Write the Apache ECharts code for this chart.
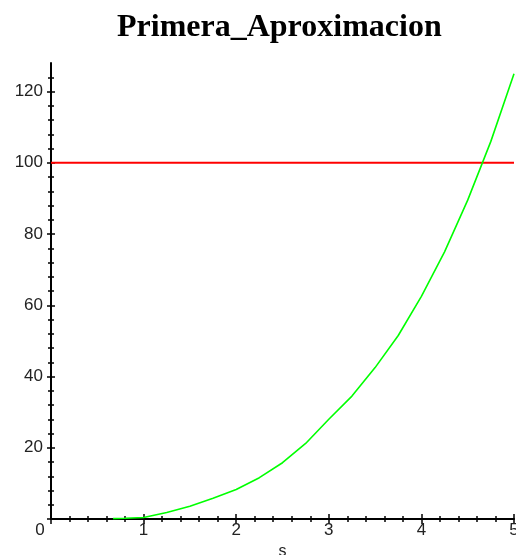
<!DOCTYPE html>
<html>
<head>
<meta charset="utf-8">
<script src="https://cdn.jsdelivr.net/npm/echarts@6/dist/echarts.min.js"></script>
<style>html,body{margin:0;padding:0;background:#fff;}#c{width:516px;height:555px;}</style>
</head>
<body>
<div id="c"></div>
<script>
const titleText = 'Primera_Aproximacion';
const xName = 's';
const sValues = [0.67, 0.8, 1.0, 1.25, 1.5, 1.75, 2.0, 2.25, 2.5, 2.75, 3.0, 3.25, 3.5, 3.75, 4.0, 4.25, 4.5, 4.75, 5.0];
const approxValues = [0.1, 0.2, 0.4, 1.8, 3.6, 5.8, 8.3, 11.6, 15.8, 21.2, 28, 34.5, 42.5, 51.5, 62.5, 75, 89.5, 106, 125];
const refS = [0, 5];
const refValues = [100, 100];
const yMajorTicks = [0, 20, 40, 60, 80, 100, 120];
const yMinorTicks = [4, 8, 12, 16, 24, 28, 32, 36, 44, 48, 52, 56, 64, 68, 72, 76, 84, 88, 92, 96, 104, 108, 112, 116, 124];
const xTickLabels = [0, 1, 2, 3, 4, 5];

const chart = echarts.init(document.getElementById('c'));
const labelFont = { fontFamily: 'Liberation Sans, Arial, sans-serif', fontSize: 17, color: '#222' };
const lineStyle = { color: '#000', width: 2 };

function yAx(ticks, inside, len, showLine, showLabel) {
  return {
    type: 'value', min: 0, max: 128, position: 'left',
    axisLine: { show: showLine, onZero: false, lineStyle: lineStyle },
    axisTick: { show: true, inside: inside, length: len, customValues: ticks, lineStyle: { color: '#000', width: 1.5 } },
    axisLabel: Object.assign({ show: showLabel, margin: 8, customValues: yMajorTicks.filter(v => v !== 0) }, labelFont),
    splitLine: { show: false }
  };
}
function xAx(inside, showLine, showLabel) {
  return {
    type: 'value', min: 0, max: 5, interval: 1, position: 'bottom',
    name: showLabel ? xName : '', nameLocation: 'middle', nameGap: 16,
    nameTextStyle: Object.assign({}, labelFont, { fontSize: 16 }),
    axisLine: { show: showLine, onZero: false, lineStyle: lineStyle },
    axisTick: { show: true, inside: inside, length: 5, lineStyle: { color: '#000', width: 1.5 } },
    minorTick: { show: true, splitNumber: 5, length: 3, lineStyle: { color: '#000', width: 1.5 } },
    axisLabel: Object.assign({
      show: showLabel, margin: 3, showMaxLabel: true,
      formatter: v => (v === 0 ? '{z|0}' : String(v)),
      rich: { z: Object.assign({}, labelFont, { padding: [0, 22, 0, 0] }) }
    }, labelFont),
    splitLine: { show: false }
  };
}

chart.setOption({
  animation: false,
  backgroundColor: '#fff',
  title: {
    text: titleText, left: 112, top: 7,
    textStyle: { fontFamily: 'Liberation Serif, Times New Roman, serif', fontSize: 32, fontWeight: 'bold', color: '#000' }
  },
  grid: { left: 51, right: 2, top: 63, bottom: 36, containLabel: false, outerBoundsMode: 'none' },
  xAxis: [xAx(false, true, true), xAx(true, false, false)],
  yAxis: [
    yAx(yMajorTicks, false, 4, true, true),
    yAx(yMajorTicks, true, 4, false, false),
    yAx(yMinorTicks, false, 3, false, false),
    yAx(yMinorTicks, true, 3, false, false)
  ],
  series: [
    {
      type: 'line', name: 'ref', data: refS.map((s, i) => [s, refValues[i]]),
      showSymbol: false, lineStyle: { color: '#ff0000', width: 2 }, z: 3
    },
    {
      type: 'line', name: 'approx', data: sValues.map((s, i) => [s, approxValues[i]]),
      showSymbol: false, lineStyle: { color: '#00ff00', width: 1.6 }, z: 4
    }
  ]
});
</script>
</body>
</html>
